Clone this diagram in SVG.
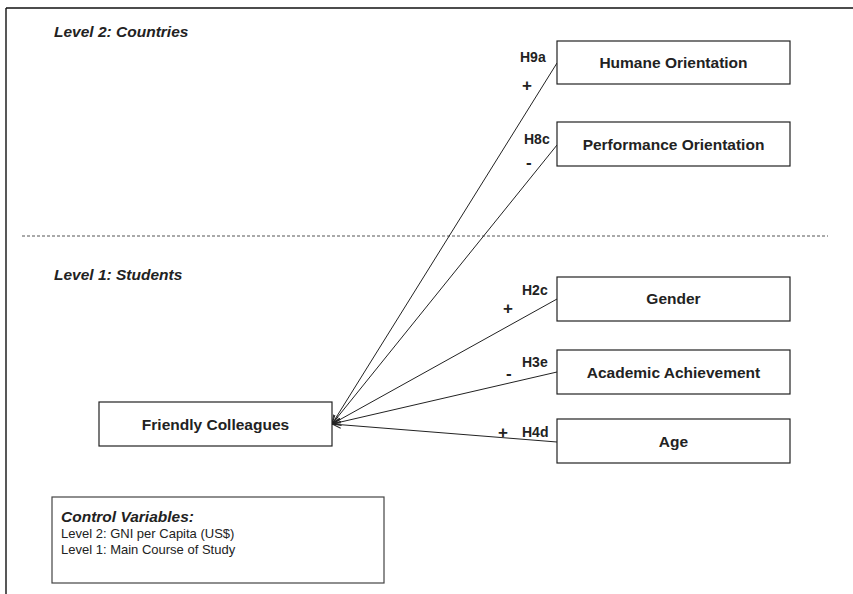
<svg xmlns="http://www.w3.org/2000/svg" width="853" height="594" viewBox="0 0 853 594">
<style>
.box{fill:#fff;stroke:#222;stroke-width:1.2}
.lbl{font-family:"Liberation Sans",Arial,sans-serif;font-weight:bold;font-size:15.5px;fill:#222;text-anchor:middle}
.hl{font-family:"Liberation Sans",Arial,sans-serif;font-weight:bold;font-size:14px;fill:#222}
.sg{font-family:"Liberation Sans",Arial,sans-serif;font-weight:bold;font-size:17px;fill:#222}
.lvl{font-family:"Liberation Sans",Arial,sans-serif;font-weight:bold;font-style:italic;font-size:15.5px;fill:#222}
.ctl{font-family:"Liberation Sans",Arial,sans-serif;font-size:13px;fill:#222}
.conn{stroke:#222;stroke-width:1;fill:none;marker-end:url(#ah)}
</style>
<defs>
<marker id="ah" markerUnits="userSpaceOnUse" markerWidth="10" markerHeight="8" refX="9" refY="4" orient="auto">
<path d="M0,0.5 L9,4 L0,7.5" fill="none" stroke="#222" stroke-width="1"/>
</marker>
</defs>
<rect width="853" height="594" fill="#fff"/>
<g id="frame">
<line x1="6" y1="8" x2="853" y2="8" stroke="#111" stroke-width="1.4"/>
<line x1="6" y1="8" x2="6" y2="594" stroke="#111" stroke-width="1.4"/>
<line x1="22" y1="236" x2="828" y2="236" stroke="#555" stroke-width="1" stroke-dasharray="3,2"/>
</g>
<text class="lvl" x="54" y="37">Level 2: Countries</text>
<text class="lvl" x="54" y="280">Level 1: Students</text>
<g id="connectors">
<line class="conn" x1="557" y1="63" x2="332" y2="424"/>
<line class="conn" x1="557" y1="145" x2="332" y2="424"/>
<line class="conn" x1="557" y1="299" x2="332" y2="424"/>
<line class="conn" x1="557" y1="372" x2="332" y2="424"/>
<line class="conn" x1="557" y1="442" x2="332" y2="424"/>
<text class="hl" x="520" y="62">H9a</text>
<text class="sg" x="522" y="91">+</text>
<text class="hl" x="524" y="144">H8c</text>
<text class="sg" x="526" y="168">-</text>
<text class="hl" x="522" y="295">H2c</text>
<text class="sg" x="503" y="314">+</text>
<text class="hl" x="522" y="367">H3e</text>
<text class="sg" x="506" y="379">-</text>
<text class="hl" x="522" y="437">H4d</text>
<text class="sg" x="498" y="438">+</text>
</g>
<g id="humane">
<rect class="box" x="557" y="41" width="233" height="43"/>
<text class="lbl" x="673.5" y="68">Humane Orientation</text>
</g>
<g id="performance">
<rect class="box" x="557" y="122" width="233" height="44"/>
<text class="lbl" x="673.5" y="150">Performance Orientation</text>
</g>
<g id="gender">
<rect class="box" x="557" y="277" width="233" height="44"/>
<text class="lbl" x="673.5" y="304">Gender</text>
</g>
<g id="academic">
<rect class="box" x="557" y="350" width="233" height="44"/>
<text class="lbl" x="673.5" y="378">Academic Achievement</text>
</g>
<g id="age">
<rect class="box" x="557" y="419" width="233" height="44"/>
<text class="lbl" x="673.5" y="447">Age</text>
</g>
<g id="friendly">
<rect class="box" x="99" y="402" width="233" height="44"/>
<text class="lbl" x="215.5" y="430">Friendly Colleagues</text>
</g>
<g id="controls">
<rect x="52" y="497" width="332" height="86" fill="#fff" stroke="#444" stroke-width="1.2"/>
<text class="lvl" x="61" y="522">Control Variables:</text>
<text class="ctl" x="61" y="538">Level 2: GNI per Capita (US$)</text>
<text class="ctl" x="61" y="554">Level 1: Main Course of Study</text>
</g>
</svg>
